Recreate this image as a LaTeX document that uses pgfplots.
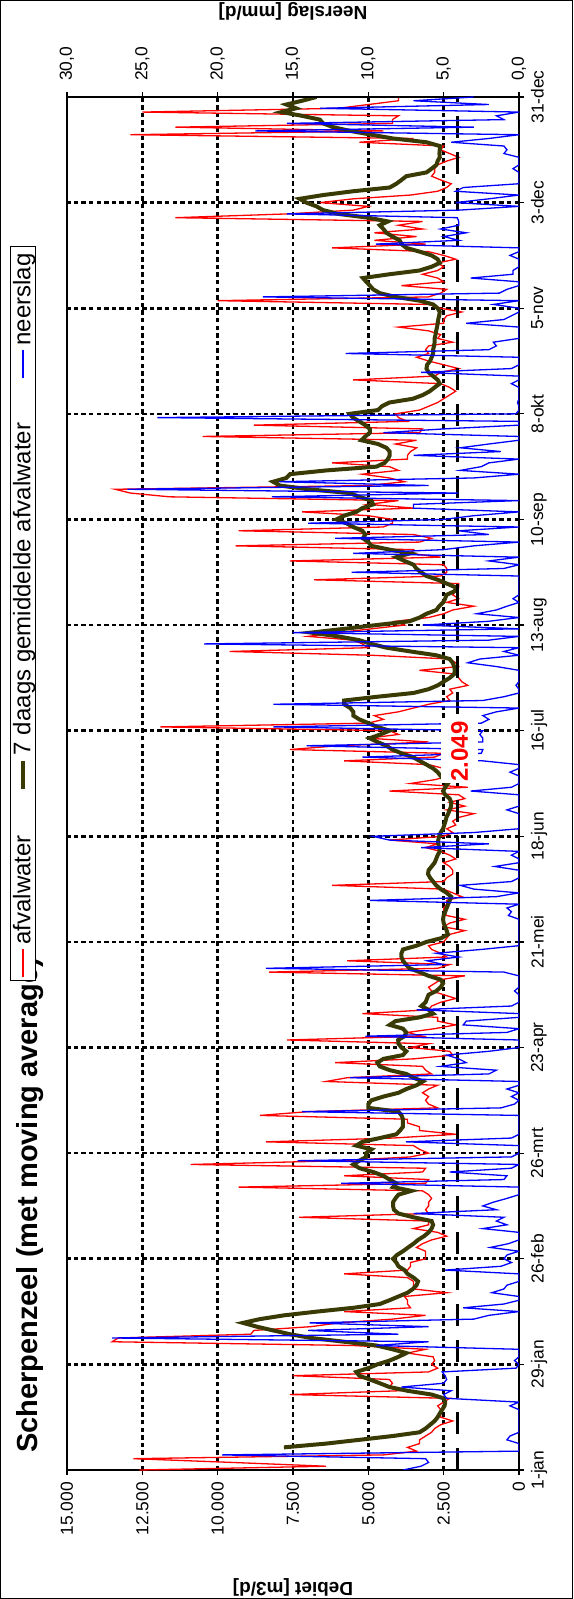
\documentclass[border=0pt]{standalone}
\usepackage{pgfplots}
\pgfplotsset{compat=1.18}
\usepackage{graphicx}
\usepackage{fontspec}
\setmainfont{Liberation Sans}
\definecolor{olijf}{RGB}{58,58,5}

% afvalwater [m3/d], dag 0 = 1-jan
\pgfplotstableread[row sep=\\]{
d v\\
0 12600\\1 6400\\2 9500\\3 12800\\4 4500\\5 3400\\6 3700\\7 3300\\8 3300\\9 3100\\
10 2900\\11 2800\\12 2600\\13 2200\\14 2600\\15 2600\\16 2600\\17 2700\\18 2500\\19 2300\\
20 7600\\21 4000\\22 4300\\23 4200\\24 4300\\25 7500\\26 3000\\27 2700\\28 2900\\29 2800\\
30 2850\\31 3700\\32 3100\\33 5500\\34 13500\\35 13300\\36 8900\\37 8800\\38 6900\\39 6000\\
40 4200\\41 3100\\42 5800\\43 3600\\44 3700\\45 3700\\46 3800\\47 2400\\48 3500\\49 3500\\
50 3500\\51 3700\\52 5800\\53 3700\\54 3600\\55 3600\\56 3100\\57 3100\\58 3100\\59 3400\\
60 3200\\61 2900\\62 2400\\63 2700\\64 3500\\65 3000\\66 3000\\67 7300\\68 3000\\69 3100\\
70 3000\\71 3000\\72 2900\\73 3000\\74 3200\\75 9300\\76 3100\\77 3000\\78 5800\\79 3200\\
80 3100\\81 10900\\82 5900\\83 3600\\84 3000\\85 3300\\86 3500\\87 8400\\88 4200\\89 2100\\
90 3300\\91 3300\\92 3700\\93 3700\\94 8600\\95 7000\\96 2700\\97 3000\\98 3100\\99 3000\\
100 3200\\101 3000\\102 2700\\103 6400\\104 5700\\105 2900\\106 3100\\107 3200\\108 6100\\109 3500\\
110 2200\\111 2300\\112 3600\\113 3000\\114 7700\\115 3200\\116 3700\\117 2800\\118 2100\\119 2700\\
120 2700\\121 5200\\122 3000\\123 2900\\124 2600\\125 2100\\126 2500\\127 2900\\128 3000\\129 2800\\
130 2600\\131 1800\\132 8300\\133 2700\\134 2300\\135 5700\\136 2400\\137 2600\\138 2900\\139 3000\\
140 2500\\141 2400\\142 2300\\143 1800\\144 2500\\145 2300\\146 1800\\147 2400\\148 2500\\149 2500\\
150 2400\\151 2400\\152 1900\\153 2200\\154 2500\\155 6200\\156 2500\\157 2400\\158 2200\\159 2200\\
160 2300\\161 2500\\162 2100\\163 2300\\164 2600\\165 3100\\166 2700\\167 4300\\168 2500\\169 2200\\
170 2400\\171 2100\\172 2200\\173 2000\\174 1500\\175 2400\\176 1800\\177 2300\\178 1800\\179 2000\\
180 4300\\181 1700\\182 3600\\183 2800\\184 2300\\185 2000\\186 2500\\187 3000\\188 5800\\189 2800\\
190 2500\\191 7600\\192 6000\\193 3000\\194 5000\\195 4000\\196 4300\\197 11900\\198 5000\\199 4500\\
200 4800\\201 4000\\202 3500\\203 3000\\204 2300\\205 2400\\206 2200\\207 2300\\208 1700\\209 1900\\
210 2000\\211 2100\\212 3300\\213 2000\\214 2100\\215 2300\\216 4900\\217 9600\\218 5000\\219 5200\\
220 5500\\221 7000\\222 6000\\223 4900\\224 3800\\225 4100\\226 3000\\227 2500\\228 2200\\229 1500\\
230 2400\\231 2000\\232 2200\\233 2100\\234 2000\\235 2000\\236 6800\\237 2600\\238 2400\\239 2400\\
240 2500\\241 7600\\242 2600\\243 3600\\244 3500\\245 9400\\246 3300\\247 2900\\248 3500\\249 9300\\
250 4500\\251 4200\\252 4200\\253 5000\\254 7200\\255 3500\\256 5000\\257 4000\\258 11600\\259 12900\\
260 13400\\261 5000\\262 3800\\263 4300\\264 5200\\265 4000\\266 4300\\267 6200\\268 3700\\269 3700\\
270 3600\\271 3400\\272 4100\\273 3400\\274 10500\\275 3300\\276 3200\\277 8800\\278 3700\\279 4000\\
280 4100\\281 3300\\282 3000\\283 2700\\284 2500\\285 2300\\286 2100\\287 2300\\288 2600\\289 5500\\
290 2800\\291 2600\\292 2000\\293 2500\\294 3000\\295 3400\\296 3000\\297 3100\\298 3000\\299 2200\\
300 2700\\301 2600\\302 3000\\303 4000\\304 2500\\305 2500\\306 2400\\307 1900\\308 2600\\309 3000\\
310 10000\\311 3000\\312 2600\\313 2400\\314 3900\\315 2500\\316 2700\\317 3200\\318 2700\\319 2500\\
320 2700\\321 2100\\322 2500\\323 3000\\324 6200\\325 3100\\326 4800\\327 3400\\328 4800\\329 3200\\
330 4000\\331 3200\\332 11400\\333 7700\\334 5500\\335 5000\\336 6600\\337 5500\\338 3600\\339 2700\\
340 2400\\341 2250\\342 2600\\343 2900\\344 2800\\345 2800\\346 2700\\347 2400\\348 2000\\349 2300\\
350 2600\\351 2500\\352 5300\\353 3500\\354 12900\\355 4500\\356 11400\\357 4200\\358 4200\\359 4000\\
360 12500\\361 6000\\362 5000\\363 4000\\364 4000\\
}\afvalwater

% 7 daags gemiddelde afvalwater [m3/d]
\pgfplotstableread[row sep=\\]{
d v\\
6 7800\\7 6400\\8 5300\\9 4200\\10 3300\\11 3100\\12 2950\\13 2800\\14 2700\\15 2630\\
16 2550\\17 2470\\18 2450\\19 2500\\20 2900\\21 3700\\22 4300\\23 4620\\24 4950\\25 5300\\
26 5400\\27 5000\\28 4700\\29 4300\\30 4000\\31 3740\\32 4200\\33 4730\\34 5800\\35 6900\\
36 7600\\37 8160\\38 8700\\39 9160\\40 8600\\41 7800\\42 6700\\43 5500\\44 4620\\45 4300\\
46 4000\\47 3700\\48 3520\\49 3400\\50 3350\\51 3500\\52 3700\\53 3800\\54 4000\\55 4070\\
56 4180\\57 4050\\58 3850\\59 3680\\60 3500\\61 3350\\62 3150\\63 3000\\64 2900\\65 2850\\
66 2900\\67 3500\\68 4000\\69 4150\\70 4180\\71 4180\\72 4100\\73 4000\\74 3570\\75 4180\\
76 4070\\77 4300\\78 4500\\79 4840\\80 5290\\81 5500\\82 5300\\83 5070\\84 5070\\85 4900\\
86 5400\\87 5200\\88 4620\\89 4070\\90 3950\\91 3850\\92 3850\\93 3850\\94 3900\\95 4000\\
96 5000\\97 5000\\98 4900\\99 4500\\100 4000\\101 3740\\102 3400\\103 3190\\104 3500\\105 3740\\
106 4290\\107 4620\\108 4700\\109 4500\\110 3850\\111 3740\\112 3900\\113 4000\\114 4010\\115 3800\\
116 3740\\117 3850\\118 4290\\119 4100\\120 3300\\121 2850\\122 3000\\123 3240\\124 3100\\125 3050\\
126 3000\\127 2740\\128 2600\\129 2520\\130 2600\\131 3000\\132 3300\\133 3630\\134 3750\\135 3850\\
136 3900\\137 3900\\138 3850\\139 3400\\140 3070\\141 2580\\142 2360\\143 2400\\144 2450\\145 2500\\
146 2520\\147 2500\\148 2450\\149 2400\\150 2350\\151 2300\\152 2250\\153 2400\\154 2600\\155 2750\\
156 2850\\157 2950\\158 3020\\159 3000\\160 2900\\161 2800\\162 2750\\163 2700\\164 2630\\165 2650\\
166 2680\\167 2680\\168 2650\\169 2600\\170 2520\\171 2480\\172 2440\\173 2410\\174 2350\\175 2300\\
176 2250\\177 2250\\178 2300\\179 2450\\180 2520\\181 2450\\182 2360\\183 2500\\184 2600\\185 2700\\
186 2850\\187 3070\\188 3300\\189 3520\\190 3900\\191 4200\\192 4400\\193 4700\\194 4950\\195 4600\\
196 4300\\197 4700\\198 5000\\199 5300\\200 5500\\201 5500\\202 5600\\203 5800\\204 5800\\205 4700\\
206 3500\\207 3000\\208 2700\\209 2500\\210 2300\\211 2150\\212 2130\\213 2150\\214 2200\\215 2300\\
216 2750\\217 3600\\218 4400\\219 4900\\220 5300\\221 6000\\222 6900\\223 5800\\224 4730\\225 3630\\
226 3300\\227 3070\\228 2740\\229 2650\\230 2520\\231 2450\\232 2410\\233 2130\\234 2100\\235 2400\\
236 2690\\237 3070\\238 3250\\239 3410\\240 3500\\241 3800\\242 4070\\243 3630\\244 4300\\245 4900\\
246 5000\\247 5180\\248 5100\\249 5200\\250 5500\\251 5730\\252 6060\\253 5800\\254 5400\\255 5200\\
256 4840\\257 4900\\258 5300\\259 5620\\260 7000\\261 7940\\262 8160\\263 7720\\264 7600\\265 6390\\
266 4730\\267 4460\\268 4350\\269 4290\\270 4290\\271 4400\\272 4680\\273 5230\\274 5100\\275 4950\\
276 4950\\277 5100\\278 5300\\279 5510\\280 5620\\281 4680\\282 4550\\283 4300\\284 3520\\285 3190\\
286 2960\\287 2800\\288 2630\\289 2700\\290 2850\\291 3000\\292 3070\\293 3050\\294 2950\\295 2900\\
296 2850\\297 2850\\298 2820\\299 2800\\300 2800\\301 2770\\302 2750\\303 2720\\304 2700\\305 2680\\
306 2650\\307 2630\\308 2700\\309 2850\\310 3300\\311 4100\\312 4620\\313 4840\\314 4950\\315 5070\\
316 5180\\317 4300\\318 3300\\319 2900\\320 2630\\321 2700\\322 2900\\323 3300\\324 3740\\325 3900\\
326 3960\\327 4200\\328 4400\\329 4500\\330 4620\\331 4350\\332 5000\\333 6000\\334 6500\\335 6720\\
336 7060\\337 7280\\338 6500\\339 5510\\340 4290\\341 4070\\342 3900\\343 3740\\344 3070\\345 2900\\
346 2740\\347 2700\\348 2630\\349 2640\\350 2630\\351 2630\\352 3070\\353 4180\\354 4900\\355 5600\\
356 6170\\357 6500\\358 6610\\359 7200\\360 7880\\361 7400\\362 7720\\363 7200\\364 6720\\
}\gemiddeld

% neerslag [mm/d]
\pgfplotstableread[row sep=\\]{
d v\\
0 7.7\\1 6.5\\2 6.0\\3 6.2\\4 19.7\\5 0\\6 0\\7 0\\8 0.8\\9 0.6\\10 0\\16 0\\17 0.6\\18 0\\
19 4.8\\20 5.0\\21 4.5\\22 7.8\\23 5.0\\24 4.8\\25 4.9\\26 5.1\\27 0.2\\28 0\\29 0.3\\30 0\\32 0\\
33 9.5\\34 6\\35 27\\36 8\\37 14\\38 6\\39 13.9\\40 3\\41 2\\42 0\\43 3.7\\44 1\\45 0\\46 0\\
47 1.8\\48 1.0\\49 0.8\\50 0\\52 0\\53 4.9\\54 1.2\\55 0.5\\56 1.0\\57 0.8\\58 0\\59 1.9\\60 0.7\\
61 0\\63 0\\64 2.4\\65 0.8\\66 1.5\\67 1.0\\68 7.0\\69 1.5\\70 2.4\\71 1.7\\72 0.8\\73 0\\75 0\\
76 11.8\\77 1.0\\78 0.8\\79 4.6\\80 0.5\\81 0\\82 14.7\\83 0.5\\84 0\\86 0\\87 7.5\\88 0.5\\89 0\\
94 0\\95 14.4\\96 1.2\\97 0.3\\98 0\\99 0.5\\100 0\\101 0.8\\102 0\\103 0\\104 11.2\\105 2.0\\
106 1.5\\107 5.2\\108 3.5\\109 4.0\\110 4.8\\111 2.0\\112 0\\114 0\\115 10.2\\116 0.8\\117 0\\
118 3.7\\119 3.5\\120 0\\121 0\\122 6.8\\123 0.5\\124 0\\126 0\\127 0.3\\128 0\\131 0\\132 1.0\\
133 16.8\\134 5.0\\135 6.1\\136 4.0\\137 5.5\\138 2.5\\139 0\\146 0\\147 0.7\\148 0.5\\149 0.8\\
150 0\\151 9.9\\152 1.5\\153 0\\154 3.0\\155 3.9\\156 0.5\\157 0\\159 0\\160 1.6\\161 0\\162 0\\
163 0.5\\164 0\\165 6.5\\166 2\\167 8.6\\168 9.7\\169 3\\170 0\\174 0\\175 0.8\\176 0\\179 0\\
180 3.2\\181 0.5\\182 0\\184 0\\185 0.6\\186 0\\187 0\\188 2.4\\189 10.4\\190 2.5\\191 2.4\\
192 14.1\\193 2.4\\194 2.4\\195 2.6\\196 2.4\\197 16.3\\198 2.5\\199 2.0\\200 2.4\\201 1.5\\202 0\\
203 16.3\\204 2.4\\205 1.0\\206 0\\207 0\\208 0.2\\209 0\\212 0\\213 1.5\\214 3.4\\215 2.6\\216 0\\
217 1.0\\218 0\\219 20.9\\220 2.0\\221 0\\222 15\\223 0\\224 6.4\\225 2.0\\226 0\\227 2.8\\228 1.5\\
229 0.8\\230 0\\231 0.4\\232 0\\237 0\\238 11.1\\239 1.0\\240 0\\241 2.0\\242 0\\243 11\\244 5\\
245 3\\246 0\\247 12.2\\248 2\\249 4\\250 0\\251 14\\252 5\\253 3\\254 0\\255 7\\256 7\\257 0\\
258 16.4\\259 4\\260 26\\261 6\\262 15.9\\263 3\\264 0\\265 3.9\\266 2.5\\267 2\\268 0\\269 7\\
270 1.2\\271 3.9\\272 2\\273 0\\274 0\\275 9\\276 5\\277 0\\278 0\\279 24\\280 0.2\\281 0\\282 0\\
283 0.1\\284 0\\287 0\\288 0.5\\289 0\\290 0\\291 6.5\\292 0.5\\293 0\\295 0\\296 11.5\\297 2\\
298 1.5\\299 1.7\\300 0\\303 0\\304 3.5\\305 1\\306 0.5\\307 0\\308 0\\309 1.7\\310 0\\311 17\\
312 1.3\\313 0.8\\314 0\\315 0\\316 3.2\\317 0.4\\318 0.4\\319 0\\321 0\\322 0.6\\323 0\\324 0\\
325 9.5\\326 4\\327 5\\328 3.5\\329 5.2\\330 4\\331 4\\332 4.1\\333 15.4\\334 4\\335 0\\336 4.2\\
337 2\\338 0\\339 4.2\\340 3.7\\341 0\\344 0\\345 0.4\\346 0\\348 0\\349 1\\350 0.8\\351 1\\
352 4.5\\353 2\\354 0\\355 17.5\\356 3\\357 15.4\\358 1\\359 1.5\\360 0\\361 13.2\\362 2\\363 7\\364 3\\
}\neerslag

\begin{document}
\rotatebox{90}{%
\begin{tikzpicture}
\useasboundingbox (-64.5pt,-27pt) rectangle (735pt,259.5pt);
\draw[line width=0.5pt] (-64pt,-26.5pt) rectangle (734.5pt,259pt);

\begin{axis}[
    at={(0,0)}, anchor=south west,
    scale only axis, width=686.5pt, height=226pt,
    xmin=0, xmax=364, ymin=0, ymax=15000,
    scaled y ticks=false,
    xtick={0,28,...,364},
    xticklabels={1-jan,29-jan,26-feb,26-mrt,23-apr,21-mei,18-jun,16-jul,13-aug,10-sep,8-okt,5-nov,3-dec,31-dec},
    ytick={0,2500,...,15000},
    yticklabels={0,2.500,5.000,7.500,10.000,12.500,15.000},
    tick pos=left, tick align=outside, major tick length=2.5pt,
    grid=major,
    major grid style={black, line width=1.3pt, dash pattern=on 2.2pt off 1.6pt},
    axis line style={black, line width=0.6pt},
    tick style={black, line width=0.6pt},
    tick label style={font=\fontsize{8.7}{10}\selectfont},
    /pgf/number format/assume math mode=true,
    ylabel={\textbf{Debiet [m3/d]}},
    ylabel style={at={(axis description cs:-0.0852,0.5)}, anchor=center, font=\fontsize{9.5}{11}\selectfont},
]
\addplot[red, line width=0.65pt] table[x=d, y=v] {\afvalwater};
\addplot[olijf, line width=2pt] table[x=d, y=v] {\gemiddeld};
\addplot[black, line width=1.4pt, dash pattern=on 11pt off 7pt] coordinates {(0,2049) (364,2049)};
\end{axis}

\node[anchor=base west, font=\bfseries\fontsize{14.5}{16}\selectfont] at (5pt,240.5pt) {Scherpenzeel (met moving average)};

\begin{axis}[
    at={(0,0)}, anchor=south west,
    scale only axis, width=686.5pt, height=226pt,
    xmin=0, xmax=364, ymin=0, ymax=30,
    axis x line=none, axis y line*=right,
    ytick={0,5,...,30},
    yticklabels={{0,0},{5,0},{10,0},{15,0},{20,0},{25,0},{30,0}},
    tick align=outside, major tick length=2.5pt,
    axis line style={black, line width=0.6pt},
    tick style={black, line width=0.6pt},
    tick label style={font=\fontsize{8.7}{10}\selectfont},
    yticklabel style={xshift=2pt},
    /pgf/number format/assume math mode=true,
    ylabel={\textbf{Neerslag [mm/d]}},
    ylabel style={at={(axis description cs:1.062,0.5)}, anchor=center, font=\fontsize{9.5}{11}\selectfont},
    legend columns=-1,
    legend image code/.code={\draw[#1] (0pt,0pt) -- (14pt,0pt);},
    legend style={at={(0.356,1.126)}, anchor=north west, draw=black, fill=white,
        line width=0.5pt, inner xsep=1.5pt, inner ysep=0pt, font=\fontsize{12}{13}\selectfont,
        nodes={inner ysep=1.2pt},
        /tikz/every even column/.append style={column sep=20pt}},
]
\addlegendimage{red, line width=0.65pt}
\addlegendentry{afvalwater}
\addlegendimage{olijf, line width=2pt}
\addlegendentry{7 daags gemiddelde afvalwater}
\addplot[blue, line width=0.65pt] table[x=d, y=v] {\neerslag};
\addlegendentry{neerslag\hspace{96pt}}
\node[fill=white, text=red, font=\bfseries\fontsize{12}{14}\selectfont, inner xsep=1pt, inner ysep=5pt] at (axis cs:190.5,3.95) {2.049};
\end{axis}
\end{tikzpicture}}
\end{document}
